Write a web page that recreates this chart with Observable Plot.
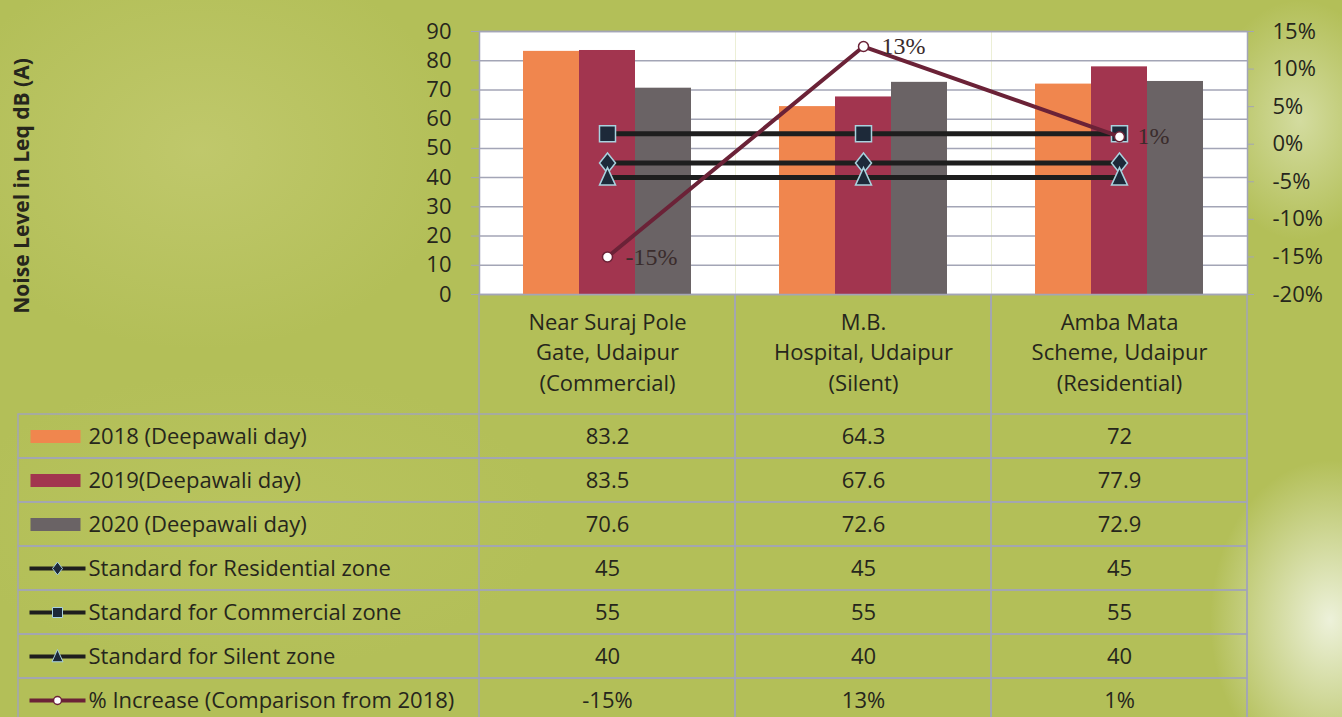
<!DOCTYPE html>
<html>
<head>
<meta charset="utf-8">
<script src="https://cdn.jsdelivr.net/npm/d3@7"></script>
<script src="https://cdn.jsdelivr.net/npm/@observablehq/plot@0.6"></script>
<style>
  html, body { margin: 0; padding: 0; width: 1342px; height: 717px; overflow: hidden; }
  body {
    font-family: "Open Sans", Lato, sans-serif;
    background:
      radial-gradient(ellipse 120px 160px at 1330px 620px, rgba(240,244,225,0.95) 0%, rgba(240,244,225,0) 100%),
      radial-gradient(ellipse 90px 120px at 1300px 120px, rgba(225,232,190,0.7) 0%, rgba(225,232,190,0) 100%),
      radial-gradient(ellipse 260px 200px at 200px 150px, rgba(200,206,120,0.6) 0%, rgba(200,206,120,0) 100%),
      radial-gradient(ellipse 300px 150px at 250px 520px, rgba(190,200,100,0.5) 0%, rgba(190,200,100,0) 100%),
      #b3bf58;
  }
  #wrap { position: relative; width: 1342px; height: 717px; }
  #wrap svg { position: absolute; left: 0; overflow: visible; background: transparent !important; }
</style>
</head>
<body>
<div id="wrap"></div>
<script>
// ---------- data ----------
const categories = [
  "Near Suraj Pole\nGate, Udaipur\n(Commercial)",
  "M.B.\nHospital, Udaipur\n(Silent)",
  "Amba Mata\nScheme, Udaipur\n(Residential)"
];
const years = ["2018 (Deepawali day)", "2019(Deepawali day)", "2020 (Deepawali day)"];
const values2018 = [83.2, 64.3, 72];
const values2019 = [83.5, 67.6, 77.9];
const values2020 = [70.6, 72.6, 72.9];
const standardNames = ["Standard for Residential zone", "Standard for Commercial zone", "Standard for Silent zone"];
const stdResidential = [45, 45, 45];
const stdCommercial = [55, 55, 55];
const stdSilent = [40, 40, 40];
const pctName = "% Increase (Comparison from 2018)";
const pctIncrease = [-15, 13, 1];
const yTicks = [0, 10, 20, 30, 40, 50, 60, 70, 80, 90];
const pctTicks = [-20, -15, -10, -5, 0, 5, 10, 15];
const yTitle = "Noise Level in Leq dB (A)";

// ---------- styling ----------
const FONT = "'Open Sans', Lato, sans-serif";
const barColors = ["#f0864e", "#a2354f", "#6a6365"];
const gridColor = "#a3a5b6";
const inkColor = "#26261c";
const lineDark = "#1e1e1e";
const markerFill = "#1d2939";
const markerStroke = "#a9d2de";
const pctColor = "#6b2237";
const W = 1342, H = 294, ML = 479, MR = 95, MT = 31;
const TXT = 22;

// ---------- derived tables ----------
const barSeries = [values2018, values2019, values2020];
const bars = [];
years.forEach((yr, i) => categories.forEach((c, j) => bars.push({category: c, series: yr, value: barSeries[i][j]})));
const stdSeries = [stdResidential, stdCommercial, stdSilent];
const standards = [];
standardNames.forEach((s, i) => categories.forEach((c, j) => standards.push({category: c, standard: s, value: stdSeries[i][j]})));
const pct = categories.map((c, j) => ({category: c, value: pctIncrease[j]}));

const rowNames = [...years, ...standardNames, pctName];
const rowValues = [...barSeries, ...stdSeries, pctIncrease];
const cells = [];
rowNames.forEach((r, i) => categories.forEach((c, j) => cells.push({
  row: r, category: c,
  label: r === pctName ? `${rowValues[i][j]}%` : String(rowValues[i][j])
})));

// ---------- marker shapes ----------
const diamondShape = (w, h) => ({draw(ctx) { ctx.moveTo(0, -h); ctx.lineTo(w, 0); ctx.lineTo(0, h); ctx.lineTo(-w, 0); ctx.closePath(); }});
const squareShape = (s) => ({draw(ctx) { ctx.rect(-s, -s, 2 * s, 2 * s); }});
const triangleShape = (w, h) => ({draw(ctx) { ctx.moveTo(0, -h); ctx.lineTo(w, h * 0.75); ctx.lineTo(-w, h * 0.75); ctx.closePath(); }});
const rectSymbol = {draw(ctx) { ctx.rect(-25, -6.5, 50, 13); }};
const lineSymbol = {draw(ctx) { ctx.moveTo(-28, 0); ctx.lineTo(28, 0); }};
const bigMarkers = [diamondShape(8, 10), squareShape(8), triangleShape(8, 10)];
const smallMarkers = [diamondShape(5, 6.5), squareShape(5), triangleShape(5.5, 7)];

const wrap = document.getElementById("wrap");
const baseStyle = {fontFamily: FONT, color: inkColor, background: "transparent", overflow: "visible"};

// ---------- table (below chart) ----------
const TMT = 118;
const table = Plot.plot({
  width: W, height: 430, marginTop: TMT, marginBottom: 0, marginLeft: ML, marginRight: MR,
  style: {...baseStyle, fontSize: TXT + "px"},
  x: {domain: categories, padding: 0, axis: null},
  y: {domain: rowNames, padding: 0, axis: null},
  marks: [
    Plot.cell(rowNames, {y: d => d, insetLeft: -(ML - 18), fill: "none", stroke: gridColor, strokeWidth: 1.5}),
    Plot.cell(categories, {x: d => d, insetTop: -TMT, fill: "none", stroke: gridColor, strokeWidth: 1.5}),
    Plot.axisX({anchor: "top", tickSize: 0, tickPadding: 22, fontSize: TXT, lineHeight: 1.38, fill: inkColor, label: null}),
    Plot.text(cells, {x: "category", y: "row", text: "label", fontSize: TXT, fill: inkColor}),
    Plot.text(rowNames, {y: d => d, text: d => d, frameAnchor: "left", textAnchor: "start", dx: 88 - ML, fontSize: TXT, fill: inkColor}),
    Plot.dot(years, {y: d => d, frameAnchor: "left", dx: 55 - ML, symbol: rectSymbol, fill: (d, i) => barColors[i], stroke: null}),
    Plot.dot([...standardNames, pctName], {y: d => d, frameAnchor: "left", dx: 57 - ML, symbol: lineSymbol, fill: "none",
      stroke: d => d === pctName ? pctColor : lineDark, strokeWidth: 4}),
    ...standardNames.map((s, i) => Plot.dot([s], {y: d => d, frameAnchor: "left", dx: 57 - ML, symbol: smallMarkers[i],
      fill: markerFill, stroke: markerStroke, strokeWidth: 1})),
    Plot.dot([pctName], {y: d => d, frameAnchor: "left", dx: 57 - ML, r: 4, fill: "white", stroke: pctColor, strokeWidth: 1.5})
  ]
});
table.style.top = H + "px";
wrap.appendChild(table);

// ---------- bars ----------
const chart = Plot.plot({
  width: W, height: H, marginTop: MT, marginBottom: 0, marginLeft: ML, marginRight: MR,
  style: baseStyle,
  fx: {domain: categories, padding: 0, axis: null},
  x: {domain: years, paddingInner: 0, paddingOuter: 0.75, axis: null},
  y: {domain: [0, 90], axis: null},
  color: {domain: years, range: barColors},
  marks: [
    Plot.frame({fill: "white", stroke: null}),
    Plot.gridY(yTicks, {stroke: gridColor, strokeOpacity: 1, strokeWidth: 1.5}),
    Plot.barY(bars, {fx: "category", x: "series", y: "value", fill: "series"})
  ]
});
chart.style.top = "0px";
wrap.appendChild(chart);

// ---------- standards + left axis ----------
const stdPlot = Plot.plot({
  width: W, height: H, marginTop: MT, marginBottom: 0, marginLeft: ML, marginRight: MR,
  style: baseStyle,
  x: {type: "point", domain: categories, padding: 0.5, axis: null},
  y: {domain: [0, 90]},
  marks: [
    Plot.frame({stroke: gridColor, strokeWidth: 1.5}),
    Plot.axisY(yTicks, {tickSize: 8, tickPadding: 20, fontSize: 22, stroke: gridColor, fill: inkColor, label: null}),
    Plot.text([yTitle], {frameAnchor: "left", textAnchor: "middle", rotate: -90, dx: 22 - ML, dy: 23, fontSize: 21, fontWeight: "bold", fill: inkColor}),
    Plot.line(standards, {x: "category", y: "value", z: "standard", stroke: lineDark, strokeWidth: 5}),
    ...standardNames.map((s, i) => Plot.dot(standards.filter(d => d.standard === s),
      {x: "category", y: "value", symbol: bigMarkers[i], fill: markerFill, stroke: markerStroke, strokeWidth: 1.5}))
  ]
});
stdPlot.style.top = "0px";
wrap.appendChild(stdPlot);

// ---------- % increase + right axis ----------
const pctPlot = Plot.plot({
  width: W, height: H, marginTop: MT, marginBottom: 0, marginLeft: ML, marginRight: MR,
  style: baseStyle,
  x: {type: "point", domain: categories, padding: 0.5, axis: null},
  y: {domain: [-20, 15]},
  marks: [
    Plot.axisY(pctTicks, {anchor: "right", tickSize: 6, tickPadding: 19, fontSize: 22, stroke: gridColor, fill: inkColor,
      tickFormat: d => `${d}%`, label: null}),
    Plot.line(pct, {x: "category", y: "value", stroke: pctColor, strokeWidth: 4}),
    Plot.dot(pct, {x: "category", y: "value", r: 5, fill: "white", stroke: pctColor, strokeWidth: 1.5}),
    Plot.text(pct, {x: "category", y: "value", text: d => `${d.value}%`, dx: 18, textAnchor: "start", fontSize: 24,
      fontFamily: "'Liberation Serif', 'DejaVu Serif', serif", fill: "#3a2c2c"})
  ]
});
pctPlot.style.top = "0px";
wrap.appendChild(pctPlot);
</script>
</body>
</html>
